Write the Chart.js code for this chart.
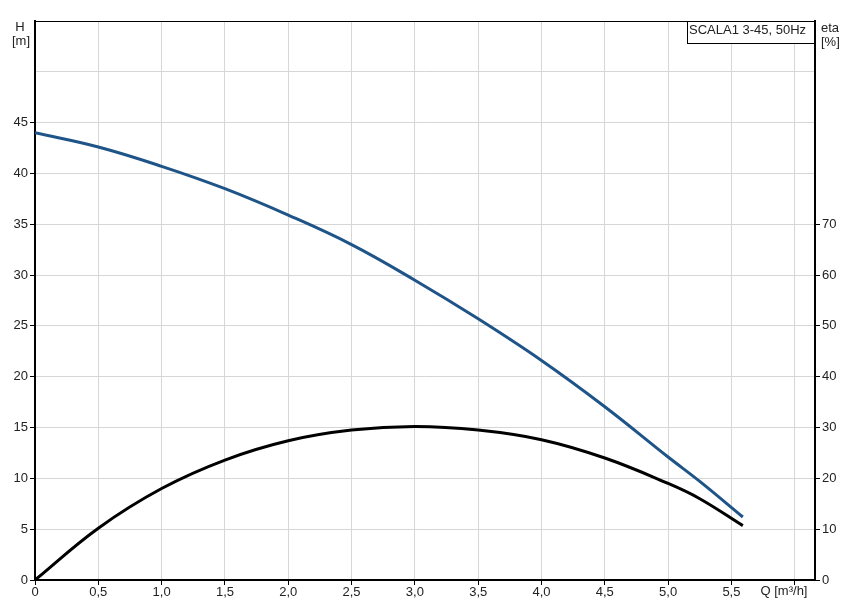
<!DOCTYPE html>
<html>
<head>
<meta charset="utf-8">
<script src="https://cdn.jsdelivr.net/npm/chart.js@4.4.1/dist/chart.umd.min.js"></script>
<style>
  html, body { margin: 0; padding: 0; background: #fff; }
  #wrap { width: 855px; height: 609px; position: relative; }
</style>
</head>
<body>
<div id="wrap"><canvas id="pumpChart"></canvas></div>
<script>
// Flow points (Q, m3/h)
const flowQ = [0, 0.5, 1.0, 1.5, 2.0, 2.5, 3.0, 3.5, 4.0, 4.5, 5.0, 5.25, 5.59];
// Head curve H [m]
const headH = [44.0, 42.6, 40.7, 38.5, 35.9, 33.0, 29.5, 25.7, 21.6, 17.05, 12.1, 9.7, 6.2];
// Efficiency curve eta [%]
const etaPct = [0, 10.2, 18.0, 23.6, 27.4, 29.5, 30.2, 29.5, 27.6, 24.0, 19.0, 16.0, 10.7];

const pumpName = 'SCALA1 3-45, 50Hz';
const gridGrey = 'rgb(214,214,214)';
const fontFamily = '"Liberation Sans", Arial, sans-serif';

// Combine Q with each series
function toPoints(ys) {
    return flowQ.map((q, i) => ({ x: q, y: ys[i] }));
}

// Axis titles, name box and top frame line
const annotations = {
    id: 'annotations',
    afterDraw(chart) {
        const ctx = chart.ctx;
        const area = chart.chartArea;
        ctx.save();
        // top frame
        ctx.strokeStyle = '#000';
        ctx.lineWidth = 1;
        ctx.beginPath();
        ctx.moveTo(area.left, area.top + 0.5);
        ctx.lineTo(area.right, area.top + 0.5);
        ctx.stroke();
        // pump name box
        const boxLeft = 687;
        ctx.fillStyle = '#fff';
        ctx.fillRect(boxLeft, area.top, area.right - boxLeft, 22);
        ctx.strokeRect(boxLeft + 0.5, area.top + 0.5, area.right - boxLeft - 1, 22);
        ctx.fillStyle = '#222';
        ctx.font = '13px ' + fontFamily;
        ctx.textBaseline = 'middle';
        ctx.textAlign = 'left';
        ctx.fillText(pumpName, boxLeft + 2, area.top + 9);
        // H [m]
        ctx.textAlign = 'center';
        ctx.fillText('H', 20, 27);
        ctx.fillText('[m]', 21, 41);
        // eta [%]
        ctx.textAlign = 'left';
        ctx.fillText('eta', 821, 28);
        ctx.fillText('[%]', 821, 42);
        // Q [m³/h]
        ctx.textAlign = 'center';
        ctx.textBaseline = 'top';
        ctx.fillText('Q [m³/h]', 784, area.bottom + 5);
        ctx.restore();
    }
};

const chartConfig = {
    type: 'scatter',
    data: {
        datasets: [{
            label: 'H',
            data: toPoints(headH),
            yAxisID: 'y',
            showLine: true,
            borderColor: 'rgb(30,84,136)',
            borderWidth: 3,
            pointRadius: 0,
            tension: 0.4
        }, {
            label: 'eta',
            data: toPoints(etaPct),
            yAxisID: 'y2',
            showLine: true,
            borderColor: '#000',
            borderWidth: 3,
            pointRadius: 0,
            tension: 0.4
        }]
    },
    options: {
        responsive: true,
        maintainAspectRatio: false,
        animation: false,
        layout: { padding: { top: 21, left: 0, right: 0, bottom: 0 } },
        plugins: {
            legend: { display: false },
            tooltip: { enabled: false }
        },
        scales: {
            x: {
                type: 'linear',
                min: 0,
                max: 6.16,
                afterFit(scale) { scale.height = 29; },
                border: { color: '#000', width: 2 },
                grid: { color: gridGrey, tickColor: '#000', tickLength: 5 },
                ticks: {
                    stepSize: 0.5,
                    includeBounds: false,
                    maxRotation: 0,
                    autoSkip: false,
                    padding: 0,
                    color: '#222',
                    font: { family: fontFamily, size: 13 },
                    callback: function(value) {
                        if (value === 0) return '0';
                        if (value > 5.5) return '';
                        return value.toFixed(1).replace('.', ',');
                    }
                }
            },
            y: {
                position: 'left',
                min: 0,
                max: 55,
                afterFit(scale) { scale.width = 35; },
                border: { color: '#000', width: 2 },
                grid: {
                    color: gridGrey,
                    tickLength: 5,
                    tickColor: (c) => (c.tick && c.tick.value > 45 ? 'rgba(0,0,0,0)' : '#000')
                },
                ticks: {
                    stepSize: 5,
                    padding: 2,
                    color: '#222',
                    font: { family: fontFamily, size: 13 },
                    callback: (value) => (value > 45 ? '' : String(value))
                }
            },
            y2: {
                position: 'right',
                min: 0,
                max: 110,
                afterFit(scale) { scale.width = 40; },
                border: { color: '#000', width: 2 },
                grid: {
                    drawOnChartArea: false,
                    tickLength: 5,
                    tickColor: (c) => (c.tick && c.tick.value > 70 ? 'rgba(0,0,0,0)' : '#000')
                },
                ticks: {
                    stepSize: 10,
                    padding: 2,
                    color: '#222',
                    font: { family: fontFamily, size: 13 },
                    callback: (value) => (value > 70 ? '' : String(value))
                }
            }
        }
    },
    plugins: [annotations]
};

const pumpChart = new Chart(document.getElementById('pumpChart'), chartConfig);
</script>
</body>
</html>
